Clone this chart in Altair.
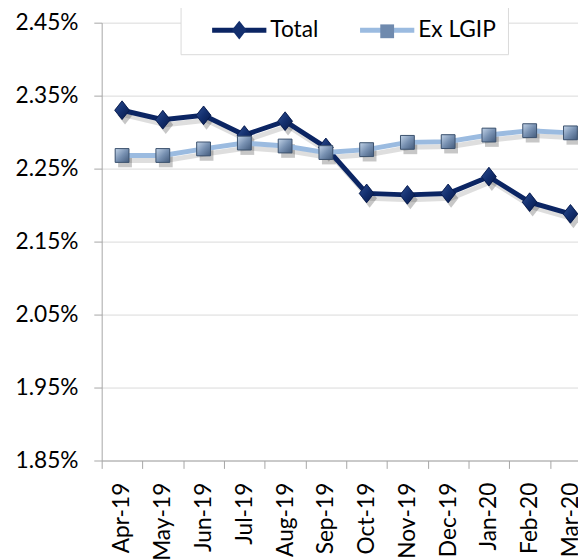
import altair as alt
import pandas as pd

months = ["Apr-19", "May-19", "Jun-19", "Jul-19", "Aug-19", "Sep-19",
          "Oct-19", "Nov-19", "Dec-19", "Jan-20", "Feb-20", "Mar-20"]
total = [2.330, 2.317, 2.323, 2.296, 2.315, 2.279, 2.216, 2.214, 2.216, 2.239, 2.204, 2.188]
ex_lgip = [2.268, 2.268, 2.277, 2.285, 2.281, 2.272, 2.276, 2.286, 2.287, 2.296, 2.302, 2.299]
series_names = ["Total", "Ex LGIP"]
y_ticks = [1.85, 1.95, 2.05, 2.15, 2.25, 2.35, 2.45]

rows = []
for name, vals in zip(series_names, [total, ex_lgip]):
    for m, v in zip(months, vals):
        rows.append({"month": m, "series": name, "series_m": name, "value": v})
df = pd.DataFrame(rows)

FONT = "Lato"
FS = 23
line_colors = ["#0b2563", "#9bbbe0"]
marker_colors = ["#132f6e", "#6f8aae"]
DIAMOND = "M0,-0.95L0.75,0L0,0.95L-0.75,0Z"
SQUARE = "M-0.7,-0.7L0.7,-0.7L0.7,0.7L-0.7,0.7Z"
LINE_SYM = "M-2.75,0L2.75,0"

x = alt.X("month:O", sort=months,
          scale=alt.Scale(type="band", range=[0, 496], paddingInner=0, paddingOuter=0),
          axis=alt.Axis(title=None, labelAngle=-90, tickBand="extent", tickSize=8,
                        labelPadding=14, labelFontSize=FS, labelFont=FONT, labelColor="#000000",
                        domainColor="#a6a6a6", tickColor="#a6a6a6", grid=False))
y = alt.Y("value:Q",
          scale=alt.Scale(domain=[1.85, 2.45], nice=False, zero=False),
          axis=alt.Axis(title=None, values=y_ticks,
                        labelExpr="format(datum.value, '.2f') + '%'",
                        tickSize=8, labelPadding=16, labelFontSize=FS, labelFont=FONT,
                        labelColor="#000000", labelFlush=False, labelOverlap=False,
                        domainColor="#a6a6a6", tickColor="#a6a6a6",
                        grid=True, gridColor="#d9d9d9"))

legend_common = dict(title=None, orient="none", legendX=80, legendY=-17, direction="horizontal",
                     symbolSize=400, symbolStrokeWidth=5, symbolOffset=35,
                     labelFont=FONT, labelFontSize=FS, labelOffset=19,
                     columnPadding=22, padding=12)
legend1 = alt.Legend(symbolType=LINE_SYM, labelColor="#000000",
                     strokeColor="#d9d9d9", fillColor="white", **legend_common)
legend2 = alt.Legend(symbolStrokeColor="transparent", symbolOpacity=1,
                     labelColor="transparent", **legend_common)

base = alt.Chart(df)

shadow_lines = base.mark_line(strokeWidth=5, color="#000000", opacity=0.13, xOffset=3, yOffset=5).encode(
    x=x, y=y, detail="series:N")

lines = base.mark_line(strokeWidth=5).encode(
    x=x, y=y,
    color=alt.Color("series:N", sort=series_names, scale=alt.Scale(range=line_colors), legend=legend1))

shadow_tot = base.transform_filter(alt.datum.series == "Total").mark_point(
    shape=DIAMOND, size=400, filled=True, color="#000000", opacity=0.22, xOffset=3, yOffset=5).encode(x=x, y=y)
shadow_ex = base.transform_filter(alt.datum.series == "Ex LGIP").mark_point(
    shape=SQUARE, size=400, filled=True, color="#000000", opacity=0.22, xOffset=3, yOffset=5).encode(x=x, y=y)

markers = base.mark_point(filled=True, size=400, opacity=1, stroke="transparent", strokeWidth=5).encode(
    x=x, y=y,
    fill=alt.Fill("series_m:N", scale=alt.Scale(domain=series_names, range=marker_colors), legend=legend2),
    shape=alt.Shape("series_m:N", scale=alt.Scale(domain=series_names, range=[DIAMOND, SQUARE]), legend=legend2))

grad_tot = {"gradient": "linear", "x1": 0, "y1": 0, "x2": 1, "y2": 1,
            "stops": [{"offset": 0, "color": "#2f4f92"}, {"offset": 0.5, "color": "#132f6e"},
                      {"offset": 1, "color": "#061848"}]}
grad_ex = {"gradient": "linear", "x1": 0, "y1": 0, "x2": 1, "y2": 1,
           "stops": [{"offset": 0, "color": "#c3d4e8"}, {"offset": 0.5, "color": "#7891b2"},
                     {"offset": 1, "color": "#435b7c"}]}

over_tot = base.transform_filter(alt.datum.series == "Total").mark_point(
    shape=DIAMOND, size=400, filled=True, opacity=1, fill=grad_tot,
    stroke="#061848", strokeWidth=0.8).encode(x=x, y=y)
over_ex = base.transform_filter(alt.datum.series == "Ex LGIP").mark_point(
    shape=SQUARE, size=400, filled=True, opacity=1, fill=grad_ex,
    stroke="#3d526e", strokeWidth=1).encode(x=x, y=y)

chart = alt.layer(shadow_lines, shadow_tot, shadow_ex, lines, markers, over_tot, over_ex).properties(
    width=483, height=444,
    autosize=alt.AutoSizeParams(type="none"),
    padding={"left": 95, "top": 11, "right": 0, "bottom": 97},
).configure_view(stroke=None)

chart.save("out.html", embed_options={"renderer": "svg", "actions": False})
